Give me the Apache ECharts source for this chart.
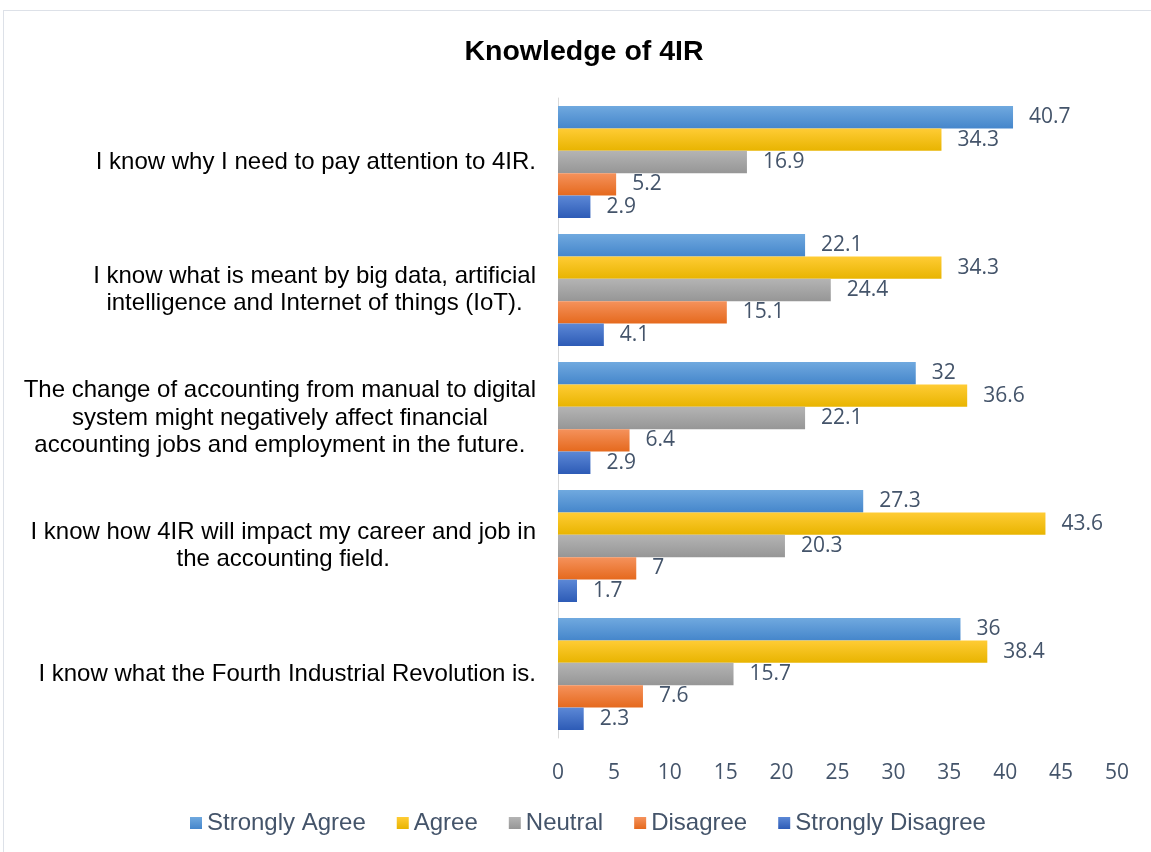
<!DOCTYPE html>
<html>
<head>
<meta charset="utf-8">
<script src="https://cdn.jsdelivr.net/npm/echarts@6/dist/echarts.min.js"></script>
<style>
  html, body { margin: 0; padding: 0; background: #fff; overflow: hidden; }
  #frame { position: absolute; left: 3px; top: 10px; width: 1200px; height: 900px; border: 1px solid #DDE1E8; box-sizing: border-box; }
  #chart { position: absolute; left: 0; top: 0; width: 1151px; height: 852px; }
</style>
</head>
<body>
<div id="frame"></div>
<div id="chart"></div>
<script>
const titleText = 'Knowledge of 4IR';
const categories = [
  'I know why I need to pay attention to 4IR.',
  'I know what is meant by big data, artificial\nintelligence and Internet of things (IoT).',
  'The change of accounting from manual to digital\nsystem might negatively affect financial\naccounting jobs and employment in the future.',
  'I know how 4IR will impact my career and job in\nthe accounting field.',
  'I know what the Fourth Industrial Revolution is.'
];
const seriesNames = ['Strongly Agree', 'Agree', 'Neutral', 'Disagree', 'Strongly Disagree'];
const stronglyAgree = [40.7, 22.1, 32, 27.3, 36];
const agree = [34.3, 34.3, 36.6, 43.6, 38.4];
const neutral = [16.9, 24.4, 22.1, 20.3, 15.7];
const disagree = [5.2, 15.1, 6.4, 7, 7.6];
const stronglyDisagree = [2.9, 4.1, 2.9, 1.7, 2.3];
const xTicks = { min: 0, max: 50, interval: 5 };

const seriesData = [stronglyAgree, agree, neutral, disagree, stronglyDisagree];
const gradients = [
  ['#70A9DF', '#4586CB'],
  ['#FFCC35', '#E8B400'],
  ['#B4B4B4', '#969696'],
  ['#F5925C', '#E5691D'],
  ['#5C88D6', '#2D5BB6']
];

const chart = echarts.init(document.getElementById('chart'), null, { renderer: 'canvas' });
const valueFont = 'Open Sans';
const labelColor = '#44546A';

const option = {
  backgroundColor: 'transparent',
  animation: false,
  title: {
    text: titleText,
    left: 579,
    top: 33,
    textAlign: 'center',
    textStyle: { fontFamily: 'Liberation Sans', fontWeight: 'bold', fontSize: 28.5, color: '#000' }
  },
  legend: {
    left: 185,
    top: 806,
    itemWidth: 12,
    itemHeight: 12,
    itemGap: 31,
    icon: 'rect',
    textStyle: { fontFamily: 'Liberation Sans', fontSize: 24, color: labelColor }
  },
  grid: { left: 558, right: 34, top: 98, bottom: 114, containLabel: false },
  xAxis: {
    type: 'value',
    min: xTicks.min,
    max: xTicks.max,
    interval: xTicks.interval,
    axisLine: { show: false },
    axisTick: { show: false },
    splitLine: { show: false },
    axisLabel: { margin: 25, fontFamily: valueFont, fontSize: 21, color: labelColor }
  },
  yAxis: {
    type: 'category',
    inverse: true,
    data: categories,
    axisLine: { show: true, lineStyle: { color: '#D9D9D9', width: 1 } },
    axisTick: { show: false },
    axisLabel: {
      margin: 22,
      align: 'right',
      formatter: function (v) { return v.split('\n').map(l => '{c|' + l + '}').join('\n'); },
      rich: {
        c: { align: 'center', fontFamily: 'Liberation Sans', fontSize: 24, lineHeight: 27.5, color: '#000' }
      }
    }
  },
  series: seriesNames.map((name, i) => ({
    name: name,
    type: 'bar',
    data: seriesData[i],
    barGap: '0%',
    barCategoryGap: '12.5%',
    itemStyle: {
      color: new echarts.graphic.LinearGradient(0, 0, 0, 1, [
        { offset: 0, color: gradients[i][0] },
        { offset: 1, color: gradients[i][1] }
      ])
    },
    label: {
      show: true,
      position: 'right',
      distance: 16,
      fontFamily: valueFont,
      fontSize: 21,
      color: labelColor
    }
  }))
};
chart.setOption(option);
</script>
</body>
</html>
